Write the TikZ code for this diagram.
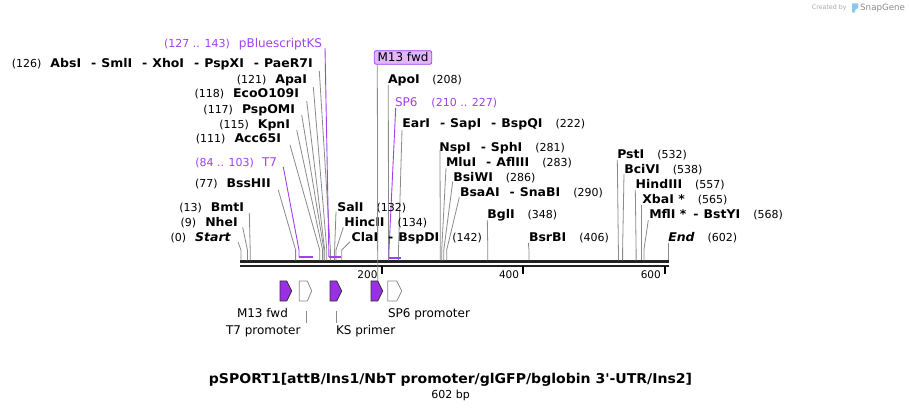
\documentclass[tikz,border=0pt]{standalone}
\usepackage{fontspec}
\setmainfont{DejaVu Sans}[Ligatures=TeXOff, BoldFeatures={FakeStretch=1.04}, BoldItalicFeatures={FakeStretch=1.04}]
\usetikzlibrary{calc}
\definecolor{lead}{HTML}{8A8A8A}
\definecolor{ftp}{HTML}{A040F0}
\definecolor{arrp}{HTML}{9A2FE4}
\definecolor{boxp}{HTML}{E2B6F8}
\definecolor{bb}{HTML}{222222}
\definecolor{sgray}{HTML}{A8A8A8}
\definecolor{sblue}{HTML}{8CC8EC}
\newcommand\numf{\fontsize{11}{13}\selectfont\mdseries\upshape}
\newcommand\nmf{\fontsize{12}{14}\selectfont\bfseries}
\newcommand\ftf{\fontsize{12}{14}\selectfont\mdseries}
\newcommand\dsep{\hspace{10pt}-\hspace{5pt}}
\begin{document}
\begin{tikzpicture}[x=1pt,y=-1pt,
  lrow/.style={anchor=base east, inner sep=0pt, outer sep=0pt},
  rrow/.style={anchor=base west, inner sep=0pt, outer sep=0pt},
  leader/.style={draw=lead, line width=0.8pt},
  fleader/.style={draw=ftp, line width=0.9pt},
  fbar/.style={draw=ftp, line width=2pt},
  parrow/.style={fill=arrp, draw=black!80, line width=0.8pt},
  warrow/.style={fill=white, draw=lead, line width=0.8pt},
  tick/.style={draw=black, line width=2pt},
  plain/.style={inner sep=0pt, outer sep=0pt, font=\ftf}]
\useasboundingbox (0,0) rectangle (909,411);

% ---------- backbone ----------
\coordinate (bbL1) at (240,262); \coordinate (bbR1) at (668.5,262);
\coordinate (bbL2) at (240,266.3); \coordinate (bbR2) at (668.5,266.3);
\draw[bb, line width=3pt] (bbL1) -- (bbR1);
\draw[bb, line width=2.4pt] (bbL2) -- (bbR2);
\foreach \t/\x in {200/381.7,400/523.3,600/665}{
  \coordinate (tk\t a) at (\x,266.5); \coordinate (tk\t b) at (\x,274.5);
  \draw[tick] (tk\t a) -- (tk\t b);
  \node[anchor=base east, inner sep=0pt, font=\fontsize{10.5}{12}\selectfont] (tl\t) at (\x-4,278.2) {\t};
}

% ---------- enzyme leaders ----------
\foreach \n/\ax/\ay/\bx in {start/238/242/241, nhe/242.7/227.3/247.4, bmt/249.3/212.7/250.2,
  bss/278.3/190/295.6, acc/290/145/319.7, kpn/296.7/130/322.6, pspo/301.7/115/324.0,
  eco/306.7/101/324.7, apa/313.3/87/326.8, abs/319.3/71/330.4, sal/336/211.7/334.6,
  hinc/343.3/227.3/336, cla/350/241.7/341.7, apo/388.3/85/388.5, ear/402/130/398.5,
  nsp/440/150/440.3, mlu/446/168.3/441.7, bsiwi/452.7/181.7/443.8, bsaai/459.3/197.3/446.7,
  bgl/487.3/220/487.8, bsrbi/528.3/242.7/529, pst/617.3/160/618.4, bci/624/174/622.6,
  hind/635.3/190/636.1, xba/641.7/205/641.7, mfl/648.3/220/643.9, end/668.3/242.7/668.3}{
  \coordinate (\n a) at (\ax,\ay);
  \coordinate (\n b) at (\bx,250);
  \coordinate (\n c) at (\bx,260.5);
  \draw[leader] (\n a) -- (\n b) -- (\n c);
}

% ---------- feature leaders (purple) ----------
\coordinate (pbksa) at (325,48); \coordinate (pbksb) at (328.8,250);
\coordinate (pbksc) at (328.8,257); \coordinate (pbksd) at (341,257);
\draw[fleader] (pbksa) -- (pbksb) -- (pbksc);
\draw[fbar] (pbksc) -- (pbksd);
\coordinate (t7a) at (283.3,167); \coordinate (t7b) at (299,250);
\coordinate (t7c) at (299,257); \coordinate (t7d) at (313,257);
\draw[fleader] (t7a) -- (t7b) -- (t7c);
\draw[fbar] (t7c) -- (t7d);
\coordinate (sp6a) at (395.7,108); \coordinate (sp6b) at (389,250);
\coordinate (sp6c) at (389,258); \coordinate (sp6d) at (401,258);
\draw[fleader] (sp6a) -- (sp6b) -- (sp6c);
\draw[fbar] (sp6c) -- (sp6d);

% ---------- left labels ----------
\node[lrow, text=ftp] (lpbks) at (322,47.1) {{\numf(127 .. 143)}\hspace{9pt}{\ftf pBluescriptKS}};
\node[lrow] (labs) at (312.7,67.7) {{\numf(126)}\hspace{9pt}{\nmf AbsI\dsep SmlI\dsep XhoI\dsep PspXI\dsep PaeR7I}};
\node[lrow] (lapa) at (307,83.7) {{\numf(121)}\hspace{9pt}{\nmf ApaI}};
\node[lrow] (leco) at (299,97.7) {{\numf(118)}\hspace{9pt}{\nmf EcoO109I}};
\node[lrow] (lpspo) at (295,113.4) {{\numf(117)}\hspace{9pt}{\nmf PspOMI}};
\node[lrow] (lkpn) at (290,128.4) {{\numf(115)}\hspace{9pt}{\nmf KpnI}};
\node[lrow] (lacc) at (281,142.7) {{\numf(111)}\hspace{9pt}{\nmf Acc65I}};
\node[lrow, text=ftp] (lt7) at (277,166.7) {{\numf(84 .. 103)}\hspace{8pt}{\ftf T7}};
\node[lrow] (lbss) at (270.7,187.7) {{\numf(77)}\hspace{9pt}{\nmf BssHII}};
\node[lrow] (lbmt) at (244,211.7) {{\numf(13)}\hspace{9pt}{\nmf BmtI}};
\node[lrow] (lnhe) at (237.7,226.1) {{\numf(9)}\hspace{9pt}{\nmf NheI}};
\node[lrow] (lstart) at (230.7,241.1) {{\numf(0)}\hspace{9pt}{\nmf\itshape Start}};

% ---------- right labels ----------
\node[rrow] (lapo) at (388,83.7) {{\nmf ApoI}\hspace{12.5pt}{\numf(208)}};
\node[rrow, text=ftp] (lsp6) at (395,106.1) {{\ftf SP6}\hspace{14pt}{\numf(210 .. 227)}};
\node[rrow] (lear) at (402.3,127.7) {{\nmf EarI\dsep SapI\dsep BspQI}\hspace{13pt}{\numf(222)}};
\node[rrow] (lnsp) at (439.3,151.1) {{\nmf NspI\dsep SphI}\hspace{13pt}{\numf(281)}};
\node[rrow] (lmlu) at (446,166.7) {{\nmf MluI\dsep AflIII}\hspace{13pt}{\numf(283)}};
\node[rrow] (lbsiwi) at (453.3,181.1) {{\nmf BsiWI}\hspace{13pt}{\numf(286)}};
\node[rrow] (lbsaai) at (460,196.1) {{\nmf BsaAI\dsep SnaBI}\hspace{13pt}{\numf(290)}};
\node[rrow] (lsal) at (337.3,211.1) {{\nmf SalI}\hspace{13pt}{\numf(132)}};
\node[rrow] (lhinc) at (344.3,226.1) {{\nmf HincII}\hspace{13pt}{\numf(134)}};
\node[rrow] (lcla) at (351.7,241.7) {{\nmf ClaI\dsep BspDI}\hspace{13pt}{\numf(142)}};
\node[rrow] (lbgl) at (487.3,218.4) {{\nmf BglI}\hspace{13pt}{\numf(348)}};
\node[rrow] (lbsrbi) at (529,241.7) {{\nmf BsrBI}\hspace{13pt}{\numf(406)}};
\node[rrow] (lpst) at (617.3,158.4) {{\nmf PstI}\hspace{13pt}{\numf(532)}};
\node[rrow] (lbci) at (624.3,173.7) {{\nmf BciVI}\hspace{13pt}{\numf(538)}};
\node[rrow] (lhind) at (635.7,188.4) {{\nmf HindIII}\hspace{13pt}{\numf(557)}};
\node[rrow] (lxba) at (642.3,203.7) {{\nmf XbaI *}\hspace{13pt}{\numf(565)}};
\node[rrow] (lmfl) at (649.3,218.4) {{\nmf MflI *\hspace{7pt}-\hspace{5pt}BstYI}\hspace{13pt}{\numf(568)}};
\node[rrow] (lend) at (668.3,241.7) {{\nmf\itshape End}\hspace{13pt}{\numf(602)}};

% ---------- M13 fwd box ----------
\node[draw=ftp, fill=boxp, line width=0.8pt, rounded corners=2pt, minimum width=57.4pt,
      minimum height=13.6pt, inner sep=0pt, font=\ftf] (m13) at (403,57.5) {M13 fwd};
\coordinate (m13top) at ($(m13.south west)+(3.4,0)$);
\coordinate (m13bot) at (377.7,281);
\draw[leader] (m13top) -- (m13bot);

% ---------- feature arrows ----------
\draw[parrow] (280,281) -- ++(6.7,0) -- ++(5,10) -- ++(-5,10) -- ++(-6.7,0) -- cycle;
\draw[warrow] (299.3,281) -- ++(8,0) -- ++(4.4,10) -- ++(-4.4,10) -- ++(-8,0) -- cycle;
\draw[parrow] (330,281) -- ++(6.7,0) -- ++(5,10) -- ++(-5,10) -- ++(-6.7,0) -- cycle;
\draw[parrow] (371,281) -- ++(6.7,0) -- ++(5,10) -- ++(-5,10) -- ++(-6.7,0) -- cycle;
\draw[warrow] (387.7,281) -- ++(9,0) -- ++(5,10) -- ++(-5,10) -- ++(-9,0) -- cycle;

% ---------- bottom labels ----------
\node[plain, anchor=base west] (bm13) at (237,317.4) {M13 fwd};
\node[plain, anchor=base west] (bt7) at (226,334.2) {T7 promoter};
\node[plain, anchor=base west] (bks) at (336,334.2) {KS primer};
\node[plain, anchor=base west] (bsp6) at (388,317.4) {SP6 promoter};
\coordinate (t7pa) at (306,311); \coordinate (t7pb) at (306,323);
\draw[leader] (t7pa) -- (t7pb);
\coordinate (ksa) at (336.3,311); \coordinate (ksb) at (336.3,323);
\draw[leader] (ksa) -- (ksb);

% ---------- title ----------
\node[anchor=base, inner sep=0pt, font=\fontsize{13.5}{16}\selectfont\bfseries] (title) at (450.5,383.2)
  {pSPORT1[attB/Ins1/NbT promoter/glGFP/bglobin 3'-UTR/Ins2]};
\node[anchor=base, inner sep=0pt, font=\fontsize{11}{13}\selectfont] (size) at (450.7,398.3) {602 bp};

% ---------- SnapGene mark ----------
\node[anchor=base west, inner sep=0pt, text=sgray, font=\fontsize{6.3}{7}\selectfont] (cby) at (811.7,9.8) {Created by};
\fill[sblue, rounded corners=0.8pt] (852,3.4) -- (858.3,3.4) -- (858.3,8.2) -- (855.2,9.6) -- (855.2,12.7) -- (852,12.7) -- cycle;
\node[anchor=base west, inner sep=0pt, text=black!45, font=\fontsize{8.7}{10}\selectfont] (sg) at (860,10.6) {SnapGene};
\end{tikzpicture}
\end{document}
